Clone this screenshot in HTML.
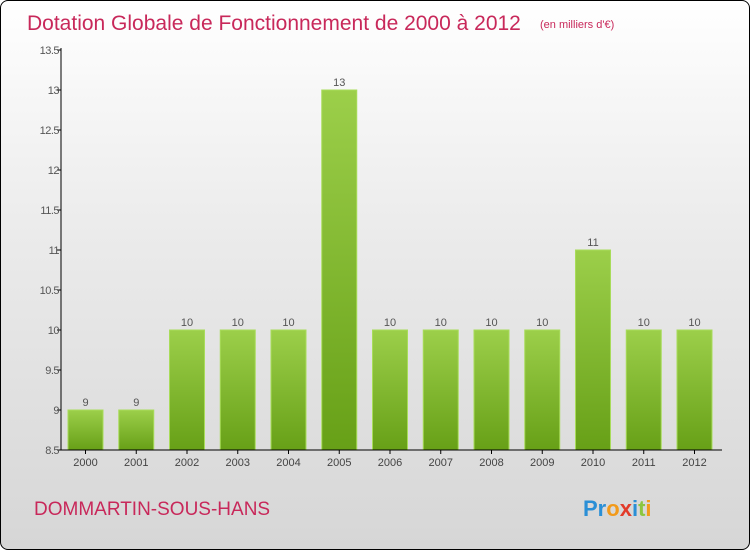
<!DOCTYPE html>
<html><head><meta charset="utf-8"><style>
body{margin:0;width:750px;height:550px;overflow:hidden;font-family:"Liberation Sans",sans-serif}
#c{position:absolute;left:0;top:0;width:748px;height:548px;border:1px solid #000;border-radius:8px;background:linear-gradient(#fff 0%,#ececec 40%,#d6d6d6 100%)}
</style></head><body>
<div id="c"></div>
<svg id="s" width="750" height="550" style="position:absolute;left:0;top:0">
<defs><linearGradient id="g" x1="0" y1="0" x2="0" y2="1"><stop offset="0" stop-color="#9ccf4a"/><stop offset="1" stop-color="#67a017"/></linearGradient></defs>
<text x="27" y="30" font-size="21" fill="#c8285a">Dotation Globale de Fonctionnement de 2000 à 2012</text>
<text x="540" y="28" font-size="11" fill="#c8285a">(en milliers d'€)</text>
<text x="34" y="515" font-size="19" fill="#c8285a">DOMMARTIN-SOUS-HANS</text>
<g font-size="22" font-weight="bold"><text x="583" y="516"><tspan fill="#2a8fd6">Pr</tspan><tspan fill="#f29a1a">o</tspan><tspan fill="#e23b2a">x</tspan><tspan fill="#2a8fd6">i</tspan><tspan fill="#8cc63f">t</tspan><tspan fill="#f29a1a">i</tspan></text></g>
<g id="plot"></g>
</svg>
<script>
const categories=["2000","2001","2002","2003","2004","2005","2006","2007","2008","2009","2010","2011","2012"];
const values=[9,9,10,10,10,13,10,10,10,10,11,10,10];
const valueLabels=["9","9","10","10","10","13","10","10","10","10","11","10","10"];
const yTicks=[8.5,9,9.5,10,10.5,11,11.5,12,12.5,13,13.5];
const yTickLabels=["8.5","9","9.5","10","10.5","11","11.5","12","12.5","13","13.5"];
const ns="http://www.w3.org/2000/svg",p=document.getElementById('plot');
const y=v=>450-(v-8.5)*80, x=i=>85.5+i*50.75;
function mk(t,a,txt){const e=document.createElementNS(ns,t);for(const k in a)e.setAttribute(k,a[k]);if(txt!=null)e.textContent=txt;p.appendChild(e);return e;}
yTicks.forEach((v,i)=>{
 const t=mk('line',{x1:57,x2:61,y1:y(v),y2:y(v),stroke:'#000'});
 
 
 const l=mk('text',{x:59,y:y(v)+4,'font-size':11,fill:'#555','text-anchor':'end','letter-spacing':'-0.5'},yTickLabels[i]);
 
 
});
categories.forEach((c,i)=>{
 const b=mk('rect',{x:x(i)-17.5,y:y(values[i]),width:35,height:450-y(values[i]),fill:'url(#g)',stroke:'#a8dc5a','stroke-width':1});
 
 
 const v=mk('text',{x:x(i),y:y(values[i])-4,'font-size':11,fill:'#555','text-anchor':'middle'},valueLabels[i]);
 
 
 const t=mk('line',{x1:x(i),x2:x(i),y1:450,y2:454,stroke:'#000'});
 
 
 const l=mk('text',{x:x(i),y:466,'font-size':11,fill:'#444','text-anchor':'middle'},c);
 
 
});
const ya=mk('line',{x1:61,x2:61,y1:48,y2:450,stroke:'#000'});


const xa=mk('line',{x1:61,x2:722,y1:450,y2:450,stroke:'#000'});


</script>
</body></html>
